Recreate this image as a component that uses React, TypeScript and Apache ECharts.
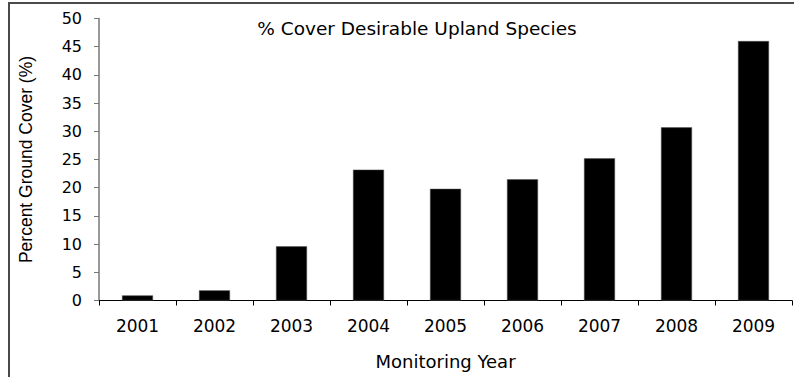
import React, { useEffect, useRef } from "react";
import * as echarts from "echarts";

const years = ["2001", "2002", "2003", "2004", "2005", "2006", "2007", "2008", "2009"];
const coverValues = [0.9, 1.8, 9.6, 23.2, 19.8, 21.5, 25.2, 30.7, 46.0];
const chartTitle = "% Cover Desirable Upland Species";
const xAxisName = "Monitoring Year";
const yAxisName = "Percent Ground Cover (%)";

export default function App() {
  const ref = useRef<HTMLDivElement>(null);
  useEffect(() => {
    if (!ref.current) return;
    const chart = echarts.init(ref.current, undefined, { renderer: "svg" });
    chart.setOption({
      animation: false,
      backgroundColor: "#ffffff",
      title: {
        text: chartTitle,
        left: 412,
        top: 14,
        textAlign: "center",
        textStyle: {
          fontFamily: "DejaVu Sans",
          fontSize: 18.5,
          fontWeight: "normal",
          color: "#000",
        },
      },
      graphic: [
        {
          type: "line",
          shape: { x1: 8, y1: 3, x2: 794, y2: 3 },
          style: { stroke: "#4a4a4a", lineWidth: 2 },
        },
        {
          type: "line",
          shape: { x1: 9, y1: 2, x2: 9, y2: 377 },
          style: { stroke: "#4a4a4a", lineWidth: 2 },
        },
      ],
      grid: { left: 99, right: 2, top: 18.5, bottom: 76.5, containLabel: false },
      xAxis: {
        type: "category",
        data: years,
        name: xAxisName,
        nameLocation: "middle",
        nameGap: 52,
        nameTextStyle: { fontFamily: "DejaVu Sans", fontSize: 18, color: "#000" },
        axisLine: { lineStyle: { color: "#000", width: 1 } },
        axisTick: { show: true, length: 5, lineStyle: { color: "#000" } },
        axisLabel: { fontFamily: "DejaVu Sans", fontSize: 17, color: "#000", margin: 17 },
        splitLine: { show: false },
      },
      yAxis: {
        type: "value",
        min: 0,
        max: 50,
        interval: 5,
        name: yAxisName,
        nameLocation: "middle",
        nameGap: 64,
        nameTextStyle: { fontFamily: "Liberation Sans", fontSize: 17.5, color: "#000" },
        axisLine: { show: true, lineStyle: { color: "#777", width: 1.5 } },
        axisTick: { show: true, length: 5, lineStyle: { color: "#777" } },
        axisLabel: { fontFamily: "DejaVu Sans", fontSize: 16, color: "#000", margin: 17 },
        splitLine: { show: false },
      },
      series: [
        {
          type: "bar",
          data: coverValues,
          barWidth: 31,
          itemStyle: { color: "#000", borderColor: "#555", borderWidth: 0.5 },
        },
      ],
    });
    return () => chart.dispose();
  }, []);
  return (
    <div
      ref={ref}
      style={{ position: "fixed", left: 0, top: 0, width: 794, height: 377 }}
    />
  );
}
